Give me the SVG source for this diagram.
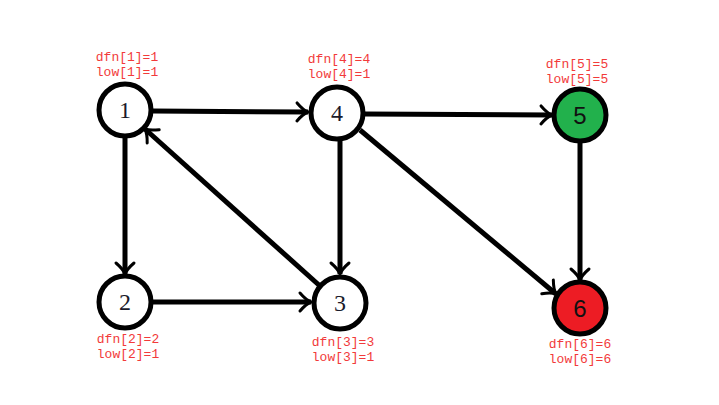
<svg xmlns="http://www.w3.org/2000/svg" width="719" height="405" viewBox="0 0 719 405">
<defs>
<style>
.node circle{stroke:#000;stroke-width:5}
.num{font-family:"Liberation Serif",serif;font-size:24px;text-anchor:middle;fill:#1a1a2a}
.nums{font-family:"Liberation Sans","DejaVu Sans",sans-serif;font-size:24px;text-anchor:middle;fill:#111}
.lbl{font-family:"Liberation Mono",monospace;font-size:13px;text-anchor:middle;fill:#f23a3a}
.edge{stroke:#000;stroke-width:5;fill:none;marker-end:url(#arr)}
</style>
<marker id="arr" markerUnits="userSpaceOnUse" markerWidth="24" markerHeight="24" refX="0" refY="0" viewBox="-14 -12 16 24" orient="auto" overflow="visible">
<path d="M-11,-9 Q-5,-2 0,0 Q-5,2 -11,9" fill="none" stroke="#000" stroke-width="3" stroke-linecap="round"/>
</marker>
</defs>
<rect width="719" height="405" fill="#fff"/>
<g id="edges">
<line class="edge" x1="153" y1="111" x2="308" y2="112"/>
<line class="edge" x1="365" y1="114" x2="552" y2="115"/>
<line class="edge" x1="125" y1="138" x2="125" y2="274"/>
<line class="edge" x1="153" y1="302" x2="311" y2="302"/>
<line class="edge" x1="340" y1="140" x2="340" y2="274"/>
<line class="edge" x1="320" y1="286" x2="145" y2="129"/>
<line class="edge" x1="360" y1="130" x2="556" y2="294"/>
<line class="edge" x1="580" y1="143" x2="580" y2="280"/>
</g>
<g id="node1" class="node">
<circle cx="125" cy="110" r="26" fill="#fff"/>
<text class="num" x="125" y="118">1</text>
<text class="lbl" x="127" y="61">dfn[1]=1</text>
<text class="lbl" x="127" y="76">low[1]=1</text>
</g>
<g id="node4" class="node">
<circle cx="337" cy="113" r="26" fill="#fff"/>
<text class="num" x="337" y="121">4</text>
<text class="lbl" x="339" y="63">dfn[4]=4</text>
<text class="lbl" x="339" y="78">low[4]=1</text>
</g>
<g id="node5" class="node">
<circle cx="580" cy="115" r="26" fill="#22b14c"/>
<text class="nums" x="580" y="124">5</text>
<text class="lbl" x="577" y="68">dfn[5]=5</text>
<text class="lbl" x="577" y="83">low[5]=5</text>
</g>
<g id="node2" class="node">
<circle cx="125" cy="302" r="26" fill="#fff"/>
<text class="num" x="125" y="310">2</text>
<text class="lbl" x="128" y="343">dfn[2]=2</text>
<text class="lbl" x="128" y="358">low[2]=1</text>
</g>
<g id="node3" class="node">
<circle cx="340" cy="303" r="26" fill="#fff"/>
<text class="num" x="340" y="311">3</text>
<text class="lbl" x="343" y="346">dfn[3]=3</text>
<text class="lbl" x="343" y="361">low[3]=1</text>
</g>
<g id="node6" class="node">
<circle cx="580" cy="308" r="26" fill="#ed1c24"/>
<text class="nums" x="580" y="317">6</text>
<text class="lbl" x="580" y="348">dfn[6]=6</text>
<text class="lbl" x="580" y="363">low[6]=6</text>
</g>
</svg>
